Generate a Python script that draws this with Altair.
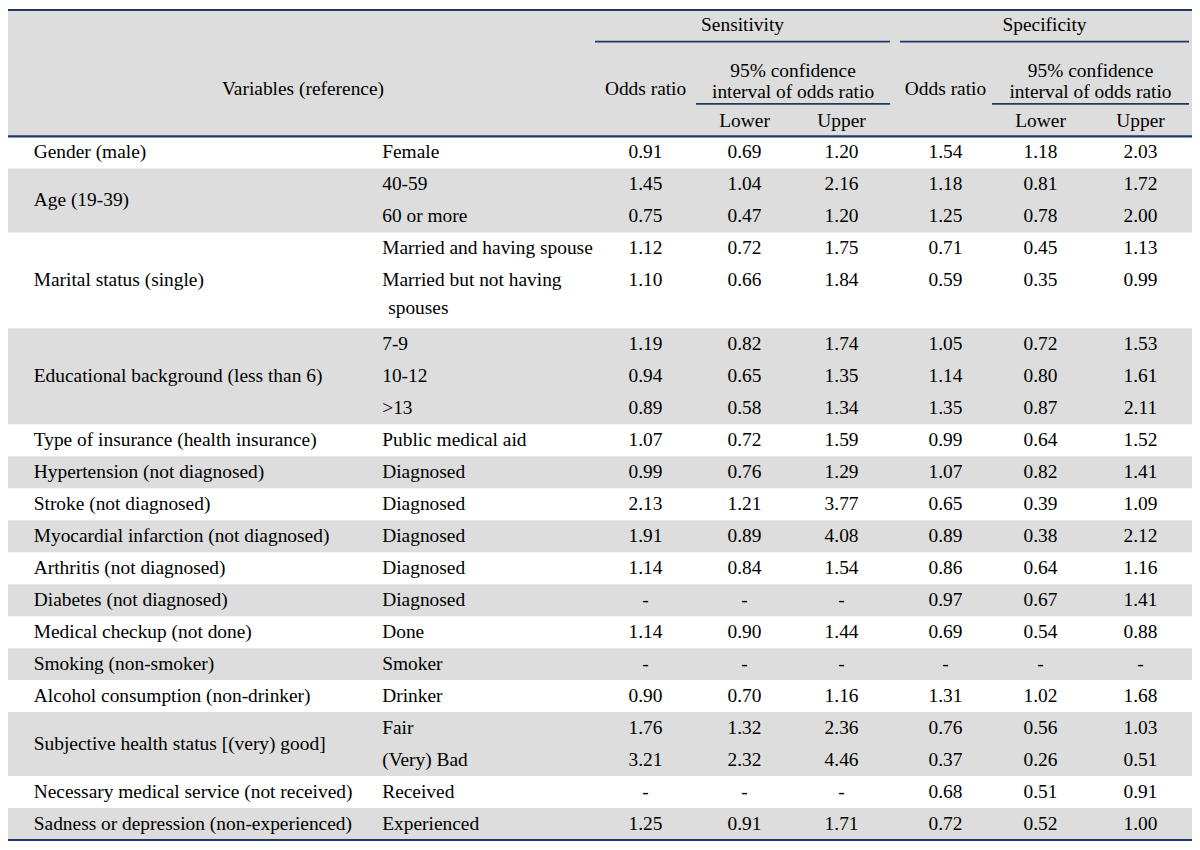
import altair as alt
import pandas as pd

# ---------------- data ----------------
variables = [
    "Gender (male)", "Age (19-39)", "Marital status (single)",
    "Educational background (less than 6)", "Type of insurance (health insurance)",
    "Hypertension (not diagnosed)", "Stroke (not diagnosed)",
    "Myocardial infarction (not diagnosed)", "Arthritis (not diagnosed)",
    "Diabetes (not diagnosed)", "Medical checkup (not done)", "Smoking (non-smoker)",
    "Alcohol consumption (non-drinker)", "Subjective health status [(very) good]",
    "Necessary medical service (not received)", "Sadness or depression (non-experienced)",
]
categories = [
    ["Female"], ["40-59"], ["60 or more"], ["Married and having spouse"],
    ["Married but not having", "spouses"], ["7-9"], ["10-12"], [">13"],
    ["Public medical aid"], ["Diagnosed"], ["Diagnosed"], ["Diagnosed"], ["Diagnosed"],
    ["Diagnosed"], ["Done"], ["Smoker"], ["Drinker"], ["Fair"], ["(Very) Bad"],
    ["Received"], ["Experienced"],
]
category_group = [0, 1, 1, 2, 2, 3, 3, 3, 4, 5, 6, 7, 8, 9, 10, 11, 12, 13, 13, 14, 15]
category_lines = [1, 1, 1, 1, 2, 1, 1, 1, 1, 1, 1, 1, 1, 1, 1, 1, 1, 1, 1, 1, 1]

sens_or = ["0.91", "1.45", "0.75", "1.12", "1.10", "1.19", "0.94", "0.89", "1.07", "0.99", "2.13",
           "1.91", "1.14", "-", "1.14", "-", "0.90", "1.76", "3.21", "-", "1.25"]
sens_lo = ["0.69", "1.04", "0.47", "0.72", "0.66", "0.82", "0.65", "0.58", "0.72", "0.76", "1.21",
           "0.89", "0.84", "-", "0.90", "-", "0.70", "1.32", "2.32", "-", "0.91"]
sens_hi = ["1.20", "2.16", "1.20", "1.75", "1.84", "1.74", "1.35", "1.34", "1.59", "1.29", "3.77",
           "4.08", "1.54", "-", "1.44", "-", "1.16", "2.36", "4.46", "-", "1.71"]
spec_or = ["1.54", "1.18", "1.25", "0.71", "0.59", "1.05", "1.14", "1.35", "0.99", "1.07", "0.65",
           "0.89", "0.86", "0.97", "0.69", "-", "1.31", "0.76", "0.37", "0.68", "0.72"]
spec_lo = ["1.18", "0.81", "0.78", "0.45", "0.35", "0.72", "0.80", "0.87", "0.64", "0.82", "0.39",
           "0.38", "0.64", "0.67", "0.54", "-", "1.02", "0.56", "0.26", "0.51", "0.52"]
spec_hi = ["2.03", "1.72", "2.00", "1.13", "0.99", "1.53", "1.61", "2.11", "1.52", "1.41", "1.09",
           "2.12", "1.16", "1.41", "0.88", "-", "1.68", "1.03", "0.51", "0.91", "1.00"]

header_variables = "Variables (reference)"
header_groups = ["Sensitivity", "Specificity"]
header_or = "Odds ratio"
header_ci = ["95% confidence", "interval of odds ratio"]
header_bounds = ["Lower", "Upper"]

# ---------------- layout (reference pixel space) ----------------
W, H = 1184, 834
X_DOMAIN = [2, 1198]
Y_DOMAIN = [3, 847]
TOP, HEAD_BOTTOM, BOTTOM = 5, 133, 845
TABLE_X0, TABLE_X1 = 0, 1198
N_LINES = sum(category_lines)
ROW_H = (BOTTOM - HEAD_BOTTOM) / N_LINES
VAR_X, CAT_X, WRAP_DX, WRAP_DY = 28, 380, 6, 28
VAL_X = [646, 746, 844, 949, 1045, 1146]
GROUP_SPAN = [(595, 893), (903, 1195)]
CI_SPAN = [(697, 893), (996, 1195)]
OR_X = [646, 949]
FONT = "Liberation Serif"
FS = 19.4
GRAY = "#dcdddc"
LINE = "#1f3864"
INK = "#000000"

# ---------------- build tables ----------------
left_txt, center_txt, rects, rules = [], [], [], []

# header background
rects.append(dict(x=TABLE_X0, x2=TABLE_X1, y=TOP, y2=HEAD_BOTTOM))

# body
line = 0
group_start = {}
for i, cat in enumerate(categories):
    g = category_group[i]
    group_start.setdefault(g, line)
    yc = HEAD_BOTTOM + (line + 0.5) * ROW_H
    for k, part in enumerate(cat):
        left_txt.append(dict(x=CAT_X + (WRAP_DX if k else 0), y=yc + k * WRAP_DY, t=part))
    for j, col in enumerate([sens_or, sens_lo, sens_hi, spec_or, spec_lo, spec_hi]):
        center_txt.append(dict(x=VAL_X[j], y=yc, t=col[i]))
    line += category_lines[i]

group_lines = {}
for i, g in enumerate(category_group):
    group_lines[g] = group_lines.get(g, 0) + category_lines[i]

for g, name in enumerate(variables):
    s, n = group_start[g], group_lines[g]
    y0 = HEAD_BOTTOM + s * ROW_H
    y1 = y0 + n * ROW_H
    left_txt.append(dict(x=VAR_X, y=(y0 + y1) / 2, t=name))
    if g % 2 == 1:
        rects.append(dict(x=TABLE_X0, x2=TABLE_X1, y=y0, y2=y1))

# header texts
center_txt.append(dict(x=300, y=85, t=header_variables))
for k in range(2):
    a, b = GROUP_SPAN[k]
    center_txt.append(dict(x=(a + b) / 2, y=20, t=header_groups[k]))
    center_txt.append(dict(x=OR_X[k], y=85, t=header_or))
    c, d = CI_SPAN[k]
    center_txt.append(dict(x=(c + d) / 2, y=67, t=header_ci[0]))
    center_txt.append(dict(x=(c + d) / 2, y=88, t=header_ci[1]))
    center_txt.append(dict(x=VAL_X[3 * k + 1], y=117, t=header_bounds[0]))
    center_txt.append(dict(x=VAL_X[3 * k + 2], y=117, t=header_bounds[1]))
    rules.append(dict(x=a, x2=b, y=37, w=1.6))
    rules.append(dict(x=c, x2=d, y=100, w=1.6))

rules.append(dict(x=TABLE_X0, x2=TABLE_X1, y=TOP, w=2.2))
rules.append(dict(x=TABLE_X0, x2=TABLE_X1, y=HEAD_BOTTOM, w=2.2))
rules.append(dict(x=TABLE_X0, x2=TABLE_X1, y=BOTTOM, w=2.2))

xs = alt.Scale(domain=X_DOMAIN, zero=False, nice=False)
ys = alt.Scale(domain=Y_DOMAIN, zero=False, nice=False, reverse=True)

rect_layer = alt.Chart(pd.DataFrame(rects)).mark_rect(color=GRAY).encode(
    x=alt.X("x:Q", scale=xs, axis=None), x2="x2:Q",
    y=alt.Y("y:Q", scale=ys, axis=None), y2="y2:Q",
)
rule_layer = alt.Chart(pd.DataFrame(rules)).mark_rule(color=LINE).encode(
    x=alt.X("x:Q", scale=xs, axis=None), x2="x2:Q",
    y=alt.Y("y:Q", scale=ys, axis=None),
    strokeWidth=alt.StrokeWidth("w:Q", scale=None),
)
left_layer = alt.Chart(pd.DataFrame(left_txt)).mark_text(
    align="left", baseline="middle", font=FONT, fontSize=FS, color=INK
).encode(
    x=alt.X("x:Q", scale=xs, axis=None), y=alt.Y("y:Q", scale=ys, axis=None), text="t:N"
)
center_layer = alt.Chart(pd.DataFrame(center_txt)).mark_text(
    align="center", baseline="middle", font=FONT, fontSize=FS, color=INK
).encode(
    x=alt.X("x:Q", scale=xs, axis=None), y=alt.Y("y:Q", scale=ys, axis=None), text="t:N"
)

chart = alt.layer(rect_layer, rule_layer, left_layer, center_layer).properties(
    width=W, height=H, padding=0, autosize=alt.AutoSizeParams(type="none"),
    background="white",
).configure_view(stroke=None)

chart.save("out.html", embed_options={"renderer": "svg", "actions": False})
